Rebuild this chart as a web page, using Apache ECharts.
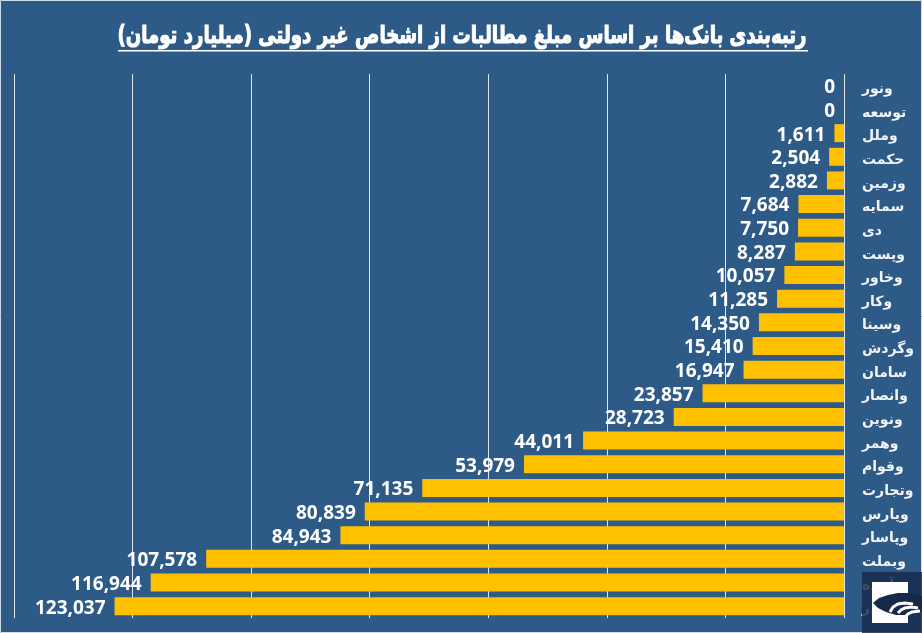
<!DOCTYPE html>
<html><head><meta charset="utf-8">
<style>html,body{margin:0;padding:0;background:#2E5A87}#c{width:922px;height:633px}</style>
<script src="https://cdn.jsdelivr.net/npm/echarts@6/dist/echarts.min.js"></script>
</head><body><div id="c"></div>
<script>
const titleText = 'رتبه‌بندی بانک‌ها بر اساس مبلغ مطالبات از اشخاص غیر دولتی (میلیارد تومان)';
const categories = ['ونور','توسعه','وملل','حکمت','وزمین','سمایه','دی','وپست','وخاور','وکار','وسینا','وگردش','سامان','وانصار','ونوین','وهمر','وقوام','وتجارت','وپارس','وپاسار','وبملت','آینده','وبصادر'];
const values = [0,0,1611,2504,2882,7684,7750,8287,10057,11285,14350,15410,16947,23857,28723,44011,53979,71135,80839,84943,107578,116944,123037];
const chart = echarts.init(document.getElementById('c'), null, {renderer:'canvas'});
chart.setOption({
  animation:false,
  backgroundColor:'#2E5A87',
  grid:{left:14,right:78,top:74,bottom:15,containLabel:false},
  xAxis:{type:'value',inverse:true,min:0,max:140000,interval:20000,
    axisLabel:{show:false},axisLine:{show:false},axisTick:{show:false},
    splitLine:{show:true,lineStyle:{color:'#dfe6ee',width:1}}},
  yAxis:{type:'category',inverse:true,data:categories,position:'right',
    axisLine:{show:false},axisTick:{show:false},
    axisLabel:{margin:18,align:'left',formatter:v=>'{a|'+v+'}',
      rich:{a:{color:'#f2f4f7',fontFamily:'DejaVu Sans',fontWeight:'bold',fontSize:14,padding:[7,0,0,0]}}}},
  series:[{type:'bar',data:values,barWidth:18,
    itemStyle:{color:'#FFC000'},
    label:{show:true,position:'left',distance:9,offset:[0,2],color:'#fff',fontFamily:'Open Sans',fontWeight:'bold',fontSize:19,
      formatter:p=>p.value.toLocaleString('en-US')}}],
  graphic:[
    {type:'rect',z:49,shape:{x:0.5,y:0.5,width:921,height:632},style:{fill:null,stroke:'#cfdeea',lineWidth:1}},
    {type:'text',z:50,x:462,y:37,scaleX:0.755,scaleY:1,
      style:{text:titleText,align:'center',verticalAlign:'middle',fill:'#fff',
        stroke:'#fff',lineWidth:1.1,font:'bold 24px "DejaVu Sans"'}},
    {type:'rect',z:50,shape:{x:118,y:50,width:690,height:1.5},style:{fill:'#fff'}},
    {type:'rect',z:60,shape:{x:862,y:572,width:60,height:61},style:{fill:'#16294a',opacity:0.82}},
    {type:'rect',z:61,shape:{x:872,y:582,width:36,height:41},style:{fill:'#fff'}},
    {type:'polygon',z:62,shape:{points:[[873,603],[879,598],[888,595],[898,593],[908,593],[922,596],[922,612],[908,615],[896,615],[886,612],[878,608]]},style:{fill:'#16294a'}},
    {type:'polyline',z:63,shape:{points:[[890,612],[893,607],[898,604],[905,603],[913,604]]},style:{stroke:'#fff',lineWidth:3,fill:null}},
    {type:'polyline',z:63,shape:{points:[[898,613],[901,610],[905,608],[911,607],[918,608]]},style:{stroke:'#fff',lineWidth:3,fill:null}},
    {type:'polyline',z:63,shape:{points:[[905,617],[908,614],[912,612],[920,611]]},style:{stroke:'#fff',lineWidth:3,fill:null}}
  ]
});
</script></body></html>
